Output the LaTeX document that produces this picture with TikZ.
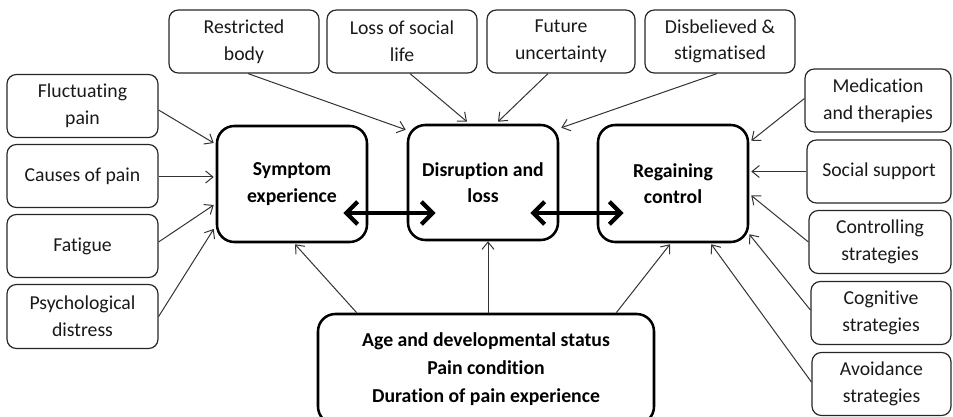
\documentclass[tikz,border=0pt]{standalone}
\usepackage{fontspec}
\setmainfont{Carlito}[Ligatures=CommonOff]
\usetikzlibrary{arrows.meta,calc}
\def\pxu{0.75pt}
\tikzset{
  smallbox/.style={draw=black!85, line width=0.9pt, rounded corners=7pt, inner sep=0pt,
    align=center, text=black!90, font=\fontsize{14.8}{20}\selectfont,
    minimum width=#1*\pxu, minimum height=63*\pxu},
  bigbox/.style={draw=black, line width=1.9pt, rounded corners=13pt, inner sep=0pt,
    align=center, font=\fontsize{14.8}{20}\selectfont\bfseries,
    minimum width=150*\pxu, minimum height=116*\pxu},
  thin/.style={draw=black!80, line width=0.75pt, -{Straight Barb[length=5.5pt,width=9pt]}},
  thick/.style={draw=black, line width=3.2pt, {Straight Barb[length=8.5pt,width=17pt]}-{Straight Barb[length=8.5pt,width=17pt]}}
}
\begin{document}
\begin{tikzpicture}[x=0.75pt,y=-0.75pt]
\useasboundingbox (0,0) rectangle (953,417);
% top row
\node[smallbox=150] (restr) at (244,41.5) {Restricted\\body};
\node[smallbox=150] (loss) at (402,41.5) {Loss of social\\life};
\node[smallbox=148] (future) at (561,41.5) {Future\\uncertainty};
\node[smallbox=150] (disbel) at (720,41.5) {Disbelieved \&\\stigmatised};
% left column
\node[smallbox=151] (fluct) at (82.5,106) {Fluctuating\\pain};
\node[smallbox=151] (causes) at (82.5,176) {Causes of pain};
\node[smallbox=151] (fatigue) at (82.5,246) {Fatigue};
\node[smallbox=151, minimum height=64*\pxu] (psych) at (82.5,316.5) {Psychological\\distress};
% right column
\node[smallbox=146] (medic) at (878,100.5) {Medication\\and therapies};
\node[smallbox=144] (social) at (879,171.5) {Social support};
\node[smallbox=142] (control) at (880,242) {Controlling\\strategies};
\node[smallbox=140] (cogn) at (881,313) {Cognitive\\strategies};
\node[smallbox=139] (avoid) at (881.5,384) {Avoidance\\strategies};
% main boxes
\node[bigbox] (sym) at (292,184) {Symptom\\experience};
\node[bigbox, minimum height=115*\pxu] (disr) at (483,182.5) {Disruption and\\loss};
\node[bigbox, minimum height=117*\pxu] (reg) at (673,183.5) {Regaining\\control};
\node[bigbox, minimum width=336*\pxu, minimum height=110*\pxu, font=\fontsize{14.8}{21}\selectfont\bfseries] (bottom) at (486,369)
  {Age and developmental status\\Pain condition\\Duration of pain experience};
% left arrows
\draw[thin] ($(fluct.east)+(0,4)$) -- ($(sym.west)+(-2,-41)$);
\draw[thin] ($(causes.east)+(0,1)$) -- ($(sym.west)+(-2,-7)$);
\draw[thin] ($(fatigue.east)+(0,-4)$) -- ($(sym.west)+(-2,21)$);
\draw[thin] (psych.east) -- ($(sym.west)+(-2,45)$);
% top arrows
\draw[thin] ($(restr.south)+(4,0)$) -- ($(disr.north west)+(-1,6)$);
\draw[thin] ($(loss.south)+(8,0)$) -- ($(disr.north)+(-16,-2)$);
\draw[thin] ($(future.south)+(-13,0)$) -- ($(disr.north)+(15,-2)$);
\draw[thin] ($(disbel.south)+(-3,0)$) -- ($(disr.north east)+(2,4)$);
% right arrows
\draw[thin] ($(medic.west)+(0,-2)$) -- ($(reg.north east)+(2,17)$);
\draw[thin] (social.west) -- ($(reg.east)+(2,-12)$);
\draw[thin] (control.west) -- ($(reg.east)+(2,12)$);
\draw[thin] ($(cogn.west)+(0,-3)$) -- ($(reg.south east)+(0,-9)$);
\draw[thin] ($(avoid.west)+(0,-2)$) -- ($(reg.south east)+(-38,1)$);
% bottom arrows
\draw[thin] ($(bottom.north west)+(40,0)$) -- ($(sym.south)+(3,1)$);
\draw[thin] ($(bottom.north)+(2,0)$) -- ($(disr.south)+(5,0)$);
\draw[thin] ($(bottom.north east)+(-39,0)$) -- ($(reg.south)+(-3,1)$);
% thick double arrows
\draw[thick] ($(sym.east)+(-25,29)$) -- ($(disr.west)+(29,30.5)$);
\draw[thick] ($(disr.east)+(-29,30.5)$) -- ($(reg.west)+(27,29.5)$);
\end{tikzpicture}
\end{document}
